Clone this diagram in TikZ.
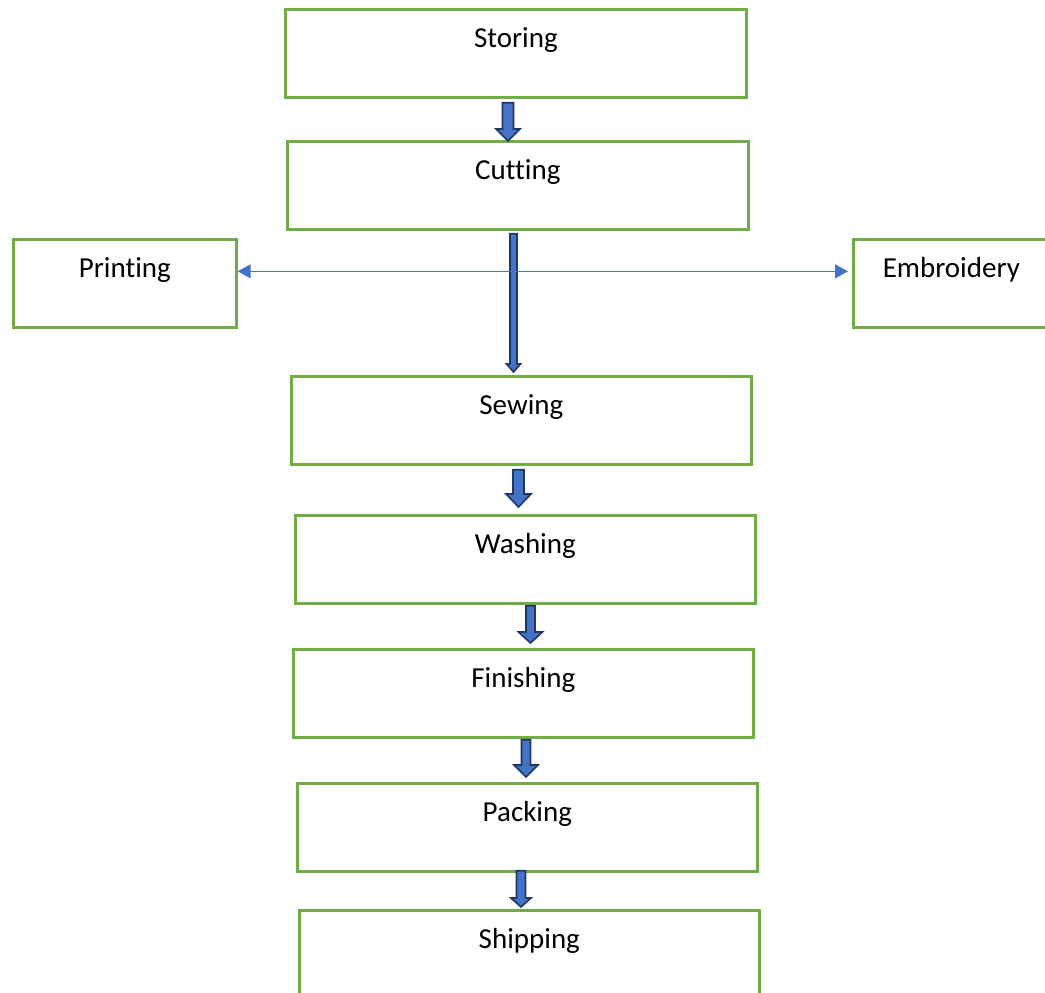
\documentclass[tikz,border=0pt]{standalone}
\usepackage{fontspec}
\setmainfont{Carlito}[Ligatures={NoCommon}]
\usetikzlibrary{calc,arrows.meta}
\definecolor{boxgreen}{HTML}{70AD47}
\definecolor{arrblue}{HTML}{4472C4}
\definecolor{arrdark}{HTML}{1F3864}
\tikzset{
  box/.style={draw=boxgreen, line width=2.7pt, rectangle, inner sep=0pt, minimum height=88pt, anchor=north west},
  lbl/.style={anchor=base, inner sep=0pt, font=\fontsize{29}{35}\selectfont},
  barrow/.style={fill=arrblue, draw=arrdark, line width=1.6pt, line join=miter},
  hline/.style={draw=arrblue, line width=1.2pt, {Triangle[length=13pt,width=14pt]}-{Triangle[length=13pt,width=14pt]}}
}
% #1 from, #2 to, #3 x centre, #4 gap below source, #5 gap above target, #6 half shaft, #7 half head, #8 head length
\newcommand\blockarrow[8]{%
  \draw[barrow] let \p1=(#1.south), \p2=(#2.north) in
   (#3pt-#6pt,\y1-#4pt) -- (#3pt+#6pt,\y1-#4pt) -- (#3pt+#6pt,\y2+#5pt+#8pt) -- (#3pt+#7pt,\y2+#5pt+#8pt)
   -- (#3pt,\y2+#5pt) -- (#3pt-#7pt,\y2+#5pt+#8pt) -- (#3pt-#6pt,\y2+#5pt+#8pt) -- cycle;}
\begin{document}
\begin{tikzpicture}[x=1pt,y=1pt]
\useasboundingbox (0,0) rectangle (1045,-993);
\clip (0,0) rectangle (1045,-993);
\node[box, minimum width=461pt] (storing) at (284,-8) {};
\node[box, minimum width=461pt] (cutting) at (286,-140) {};
\node[box, minimum width=223pt] (printing) at (12,-238) {};
\node[box, minimum width=196pt] (embroidery) at (852,-238) {};
\node[box, minimum width=460pt] (sewing) at (290,-375) {};
\node[box, minimum width=460pt] (washing) at (294,-514) {};
\node[box, minimum width=460pt] (finishing) at (292,-648) {};
\node[box, minimum width=460pt] (packing) at (296,-782) {};
\node[box, minimum width=460pt] (shipping) at (298,-909) {};
\node[lbl] (tstoring) at ([yshift=-39pt]storing.north) {Storing};
\node[lbl] (tcutting) at ([yshift=-39pt]cutting.north) {Cutting};
\node[lbl] (tprinting) at ([yshift=-39pt]printing.north) {Printing};
\node[lbl] (tembroidery) at ([yshift=-39pt]embroidery.north) {Embroidery};
\node[lbl] (tsewing) at ([yshift=-39pt]sewing.north) {Sewing};
\node[lbl] (twashing) at ([yshift=-39pt]washing.north) {Washing};
\node[lbl] (tfinishing) at ([yshift=-39pt]finishing.north) {Finishing};
\node[lbl] (tpacking) at ([yshift=-39pt]packing.north) {Packing};
\node[lbl] (tshipping) at ([yshift=-39pt]shipping.north) {Shipping};
\blockarrow{storing}{cutting}{508}{4}{-1}{5.5}{12}{12}
\blockarrow{cutting}{sewing}{513.5}{3}{3}{3.5}{7}{8}
\blockarrow{sewing}{washing}{518.5}{4}{7}{5.5}{12.5}{13}
\blockarrow{washing}{finishing}{530.5}{1}{5}{4.5}{12}{11}
\blockarrow{finishing}{packing}{526}{1}{5}{4.5}{12}{12}
\blockarrow{packing}{shipping}{521}{-2}{2}{4.5}{10}{9}
\draw[hline] ([yshift=12pt]printing.east) -- ([yshift=12pt,xshift=-4pt]embroidery.west);
\end{tikzpicture}
\end{document}
